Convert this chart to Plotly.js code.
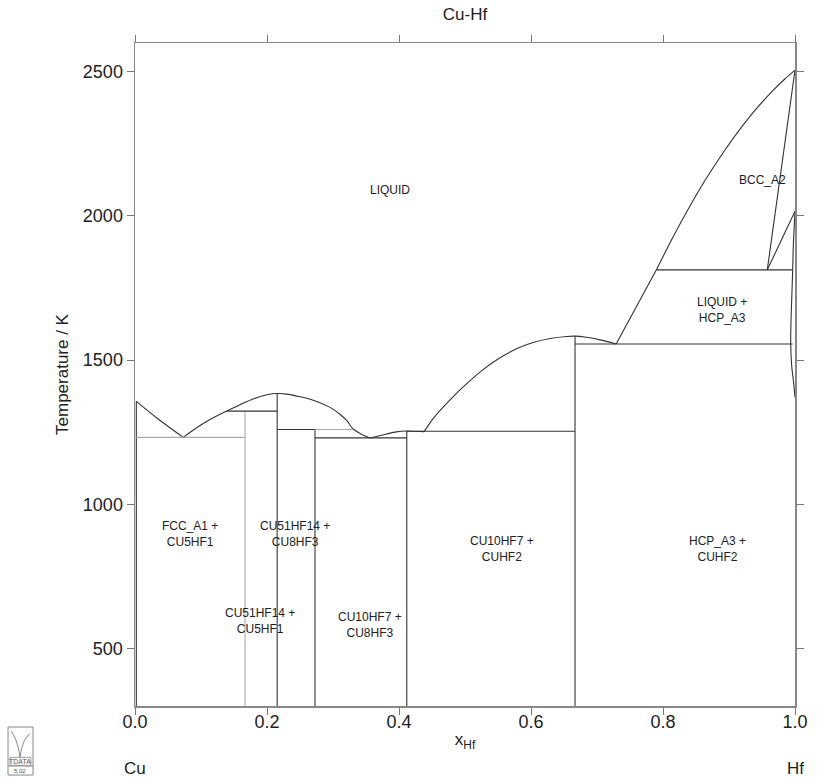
<!DOCTYPE html>
<html>
<head>
<meta charset="utf-8">
<script src="https://cdn.plot.ly/plotly-3.0.1.min.js"></script>
<style>body{margin:0;background:#fff;} #chart{width:817px;height:780px;}</style>
</head>
<body>
<div id="chart"></div>
<script>
// ---- Phase boundary data (x = mole fraction Hf, T in K) ----
const liqCuX = [0.002, 0.036, 0.0732];
const liqCuT = [1357, 1294, 1232];

const liqMidX = [0.0732, 0.09, 0.104, 0.12, 0.139, 0.16, 0.18, 0.20, 0.2154, 0.23, 0.245, 0.270, 0.2955, 0.31, 0.321, 0.330, 0.343, 0.356];
const liqMidT = [1232, 1260, 1281, 1302, 1323, 1346, 1366, 1380, 1384, 1382, 1375, 1361, 1336, 1313, 1290, 1262, 1243, 1230];

const liqCu10X = [0.356, 0.380, 0.396, 0.4118, 0.425, 0.438];
const liqCu10T = [1230, 1243, 1251, 1254, 1253, 1252];

const liqCuHf2X = [0.438, 0.452, 0.477, 0.503, 0.528, 0.553, 0.578, 0.603, 0.629, 0.654, 0.6667, 0.684, 0.705, 0.729];
const liqCuHf2T = [1252, 1298, 1361, 1419, 1468, 1508, 1539, 1561, 1575, 1582, 1583, 1579, 1570, 1556];

const liqHcpX = [0.729, 0.790];
const liqHcpT = [1556, 1813];

const liqBccX = [0.790, 0.815, 0.840, 0.865, 0.890, 0.915, 0.940, 0.965, 0.985, 1.0];
const liqBccT = [1813, 1926, 2031, 2128, 2216, 2296, 2368, 2431, 2476, 2506];

const solBccX = [1.0, 0.958];
const solBccT = [2506, 1813];

const bccTransX = [0.958, 1.0];
const bccTransT = [1813, 2016];

const hcpSolvHiX = [1.0, 0.9975, 0.9965];
const hcpSolvHiT = [2016, 1900, 1813];

const hcpSolvLoX = [0.9965, 0.994, 0.9935, 0.995, 0.998, 1.0];
const hcpSolvLoT = [1813, 1640, 1556, 1480, 1420, 1370];

const fccSolvX = [0.002, 0.002];
const fccSolvT = [1357, 300];

// Compounds (vertical lines): composition, top temperature, colour class
const compX    = [0.1667, 0.2154, 0.2727, 0.4118, 0.6667];
const compTop  = [1323, 1384, 1259, 1253, 1583];
const compGray = [true, false, false, false, false];
const tMin = 300;

// Invariant horizontal lines: from x, to x, T, grey?
const invFrom = [0.002, 0.139, 0.2154, 0.2727, 0.2727, 0.4118, 0.6667, 0.790];
const invTo   = [0.1667, 0.2154, 0.2727, 0.330, 0.4118, 0.6667, 0.9965, 0.9965];
const invT    = [1232, 1323, 1259, 1259, 1230, 1253, 1556, 1813];
const invGray = [true, false, false, true, false, false, false, false];

// Region labels
const labX = [0.386, 0.950, 0.889, 0.083, 0.242, 0.189, 0.356, 0.556, 0.883];
const labT = [2090, 2125, 1675, 895, 895, 595, 580, 845, 845];
const labText = ["LIQUID", "BCC_A2", "LIQUID +<br>HCP_A3", "FCC_A1 +<br>CU5HF1",
  "CU51HF14 +<br>CU8HF3", "CU51HF14 +<br>CU5HF1", "CU10HF7 +<br>CU8HF3",
  "CU10HF7 +<br>CUHF2", "HCP_A3 +<br>CUHF2"];

const xTicks = [0, 0.2, 0.4, 0.6, 0.8, 1.0];
const xTickText = ["0.0", "0.2", "0.4", "0.6", "0.8", "1.0"];
const yTicks = [500, 1000, 1500, 2000, 2500];

// ---- Build traces ----
const DARK = '#333333', GRAY = '#aaaaaa';
const traces = [];
function curve(x, y, smooth, color) {
  traces.push({x: x, y: y, type: 'scatter', mode: 'lines', hoverinfo: 'skip',
    line: {color: color || DARK, width: 1.1, shape: smooth ? 'spline' : 'linear', smoothing: 0.8},
    showlegend: false});
}
curve(liqCuX, liqCuT, true);
curve(liqMidX, liqMidT, true);
curve(liqCu10X, liqCu10T, true);
curve(liqCuHf2X, liqCuHf2T, true);
curve(liqHcpX, liqHcpT, false);
curve(liqBccX, liqBccT, true);
curve(solBccX, solBccT, false);
curve(bccTransX, bccTransT, false);
curve(hcpSolvHiX, hcpSolvHiT, true);
curve(hcpSolvLoX, hcpSolvLoT, true);
curve(fccSolvX, fccSolvT, false);
for (let i = 0; i < compX.length; i++) {
  curve([compX[i], compX[i]], [tMin, compTop[i]], false, compGray[i] ? GRAY : DARK);
}
for (let i = 0; i < invT.length; i++) {
  curve([invFrom[i], invTo[i]], [invT[i], invT[i]], false, invGray[i] ? GRAY : DARK);
}

const FONT = 'Liberation Sans, Arial, sans-serif';
const annotations = labText.map((t, i) => ({
  x: labX[i], y: labT[i], xref: 'x', yref: 'y', text: t, showarrow: false,
  font: {family: FONT, size: 12, color: '#222'}, align: 'center'
}));
annotations.push({x: 0, y: 0, xref: 'paper', yref: 'paper', yshift: -62, text: 'Cu', showarrow: false,
  font: {family: FONT, size: 17, color: '#222'}, xanchor: 'center', yanchor: 'middle'});
annotations.push({x: 1, y: 0, xref: 'paper', yref: 'paper', yshift: -62, text: 'Hf', showarrow: false,
  font: {family: FONT, size: 17, color: '#222'}, xanchor: 'center', yanchor: 'middle'});
// logo texts
annotations.push({x: -0.1735, y: -0.0835, xref: 'paper', yref: 'paper', text: 'TDATA', showarrow: false,
  font: {family: FONT, size: 7, color: '#555'}, xanchor: 'center', yanchor: 'middle'});
annotations.push({x: -0.1735, y: -0.0975, xref: 'paper', yref: 'paper', text: '5.02', showarrow: false,
  font: {family: FONT, size: 6, color: '#555'}, xanchor: 'center', yanchor: 'middle'});

const layout = {
  width: 817, height: 780,
  margin: {l: 135, r: 22, t: 43, b: 74},
  paper_bgcolor: '#fff', plot_bgcolor: '#fff',
  title: {text: 'Cu-Hf', x: 0.5, xref: 'paper', y: 0.982, yanchor: 'middle',
    font: {family: FONT, size: 17, color: '#222'}},
  xaxis: {range: [0, 1], tickvals: xTicks, ticktext: xTickText, ticks: 'outside', ticklen: 7,
    tickcolor: '#777', linecolor: '#888', linewidth: 1.5, mirror: 'ticks', showgrid: false,
    zeroline: false, tickfont: {family: FONT, size: 18, color: '#222'}, ticklabelstandoff: -8,
    title: {text: 'x<sub>Hf</sub>', standoff: 2, font: {family: FONT, size: 17, color: '#222'}}},
  yaxis: {range: [300, 2600], tickvals: yTicks, ticks: 'outside', ticklen: 7,
    tickcolor: '#777', linecolor: '#888', linewidth: 1.5, mirror: 'ticks', showgrid: false,
    zeroline: false, tickfont: {family: FONT, size: 18, color: '#222'},
    title: {text: 'Temperature / K', standoff: 10, font: {family: FONT, size: 17, color: '#222'}}},
  annotations: annotations,
  shapes: [
    {type: 'rect', xref: 'paper', yref: 'paper', x0: -0.1924, x1: -0.1545, y0: -0.1041, y1: -0.0317,
      line: {color: '#888', width: 1}},
    {type: 'line', xref: 'paper', yref: 'paper', x0: -0.1924, x1: -0.1545, y0: -0.0905, y1: -0.0905,
      line: {color: '#888', width: 1}},
    {type: 'rect', xref: 'paper', yref: 'paper', x0: -0.1894, x1: -0.1576, y0: -0.0895, y1: -0.0775,
      line: {color: '#888', width: 0.8}},
    {type: 'path', xref: 'paper', yref: 'paper',
      path: 'M -0.1879 -0.0377 Q -0.1780 -0.0500 -0.1742 -0.0769 Q -0.1700 -0.0480 -0.1591 -0.0420',
      line: {color: '#888', width: 1}}
  ]
};
Plotly.newPlot('chart', traces, layout, {displayModeBar: false, staticPlot: true});
</script>
</body>
</html>
